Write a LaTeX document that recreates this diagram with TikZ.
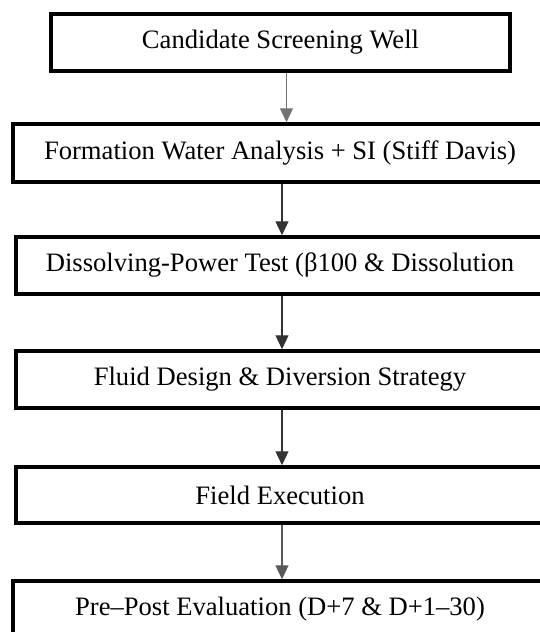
\documentclass[tikz,border=0pt]{standalone}
\usepackage{fontspec}
\setmainfont{Liberation Serif}
\usetikzlibrary{arrows.meta}

\tikzset{
  stepbox/.style={draw=black, line width=1.75pt, fill=white, inner sep=0pt,
    font=\fontsize{13.3pt}{16pt}\selectfont, text=black},
  flow/.style={line width=0.6pt, draw=black!80,
    -{Triangle[width=6.5pt,length=7pt]}},
}

\begin{document}
\begin{tikzpicture}[x=0.5pt, y=-0.5pt]
  % page frame
  \useasboundingbox (0,0) rectangle (540,632);

  % process steps, top to bottom
  \node[stepbox, minimum width=229.5pt, minimum height=28.5pt] (s1) at (280.5,42.5)
    {Candidate Screening Well};
  \node[stepbox, minimum width=267pt, minimum height=29pt] (s2) at (280,153)
    {Formation Water Analysis + SI (Stiff Davis)};
  \node[stepbox, minimum width=264pt, minimum height=28.5pt] (s3) at (280,265.5)
    {Dissolving-Power Test (β100 \& Dissolution};
  \node[stepbox, minimum width=264pt, minimum height=28.5pt] (s4) at (280,379.5)
    {Fluid Design \& Diversion Strategy};
  \node[stepbox, minimum width=264pt, minimum height=28pt] (s5) at (280,495)
    {Field Execution};
  \node[stepbox, minimum width=267pt, minimum height=28.5pt] (s6) at (280,609.5)
    {Pre–Post Evaluation (D+7 \& D+1–30)};

  % connectors
  \draw[flow, draw=black!55] ([xshift=3pt]s1.south) -- ([xshift=3pt]s1.south |- s2.north);
  \draw[flow] ([xshift=1pt]s2.south) -- ([xshift=1pt]s2.south |- s3.north);
  \draw[flow] ([xshift=1pt]s3.south) -- ([xshift=1pt]s3.south |- s4.north);
  \draw[flow] ([xshift=1pt]s4.south) -- ([xshift=1pt]s4.south |- s5.north);
  \draw[flow, draw=black!65] ([xshift=1pt]s5.south) -- ([xshift=1pt]s5.south |- s6.north);
\end{tikzpicture}
\end{document}
